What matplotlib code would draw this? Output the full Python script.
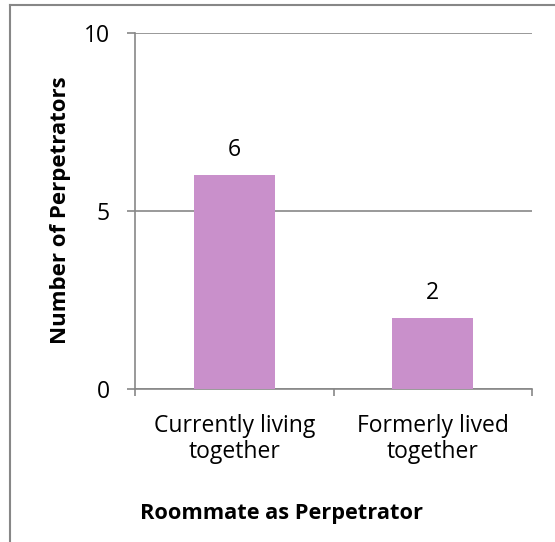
import matplotlib
matplotlib.use("Agg")
import matplotlib.pyplot as plt
from matplotlib.lines import Line2D

categories = ["Currently living\ntogether", "Formerly lived\ntogether"]
values = [6, 2]
yticks = [0, 5, 10]
x_title = "Roommate as Perpetrator"
y_title = "Number of Perpetrators"

plt.rcParams['font.family'] = ['Open Sans', 'DejaVu Sans']

W, H = 555, 542
fig = plt.figure(figsize=(W/100, H/100), dpi=100)
ax = fig.add_axes([135/W, 1-389/H, (532-135)/W, (389-33)/H])

gray = "#878787"
barcol = "#C990CB"
fs = 16.5
x = list(range(len(categories)))
bars = ax.bar(x, values, width=0.41, color=barcol, zorder=3)
for xi, v in zip(x, values):
    ax.text(xi, v + 0.37, str(v), ha="center", va="bottom", fontsize=fs)

ax.set_xlim(-0.5, len(categories) - 0.5)
ax.set_ylim(0, 10)
ax.set_yticks(yticks)
ax.set_yticklabels([str(t) for t in yticks], fontsize=fs)
ax.yaxis.grid(True, color=gray, linewidth=1.2, zorder=0)
ax.set_axisbelow(True)

ax.set_xticks([i - 0.5 for i in range(len(categories) + 1)])
ax.set_xticklabels([])
ax.set_xticks(x, minor=True)
ax.set_xticklabels(categories, minor=True, fontsize=fs, linespacing=1.12)
ax.tick_params(axis="x", which="minor", length=0, pad=18)
ax.tick_params(axis="x", which="major", length=5.2, width=1.2, color=gray)
ax.tick_params(axis="y", length=5.5, width=1.2, color=gray, pad=12.5)

for s in ["top", "right"]:
    ax.spines[s].set_visible(False)
for s in ["left", "bottom"]:
    ax.spines[s].set_color(gray)
    ax.spines[s].set_linewidth(1.2)

ax.set_ylabel(y_title, fontsize=16, fontweight="bold")
ax.yaxis.set_label_coords(71/W, 1-210/H, transform=fig.transFigure)
fig.text(282/W, 1-514/H, x_title, ha="center", va="center", fontsize=15.7, fontweight="bold")

# outer chart border (left and top visible)
fig.add_artist(Line2D([9.5/W, 9.5/W], [0, 1-4.5/H], transform=fig.transFigure, color=gray, linewidth=1.5))
fig.add_artist(Line2D([9.5/W, 1], [1-4.5/H, 1-4.5/H], transform=fig.transFigure, color=gray, linewidth=1.5))

fig.savefig("out.png", dpi=100)
